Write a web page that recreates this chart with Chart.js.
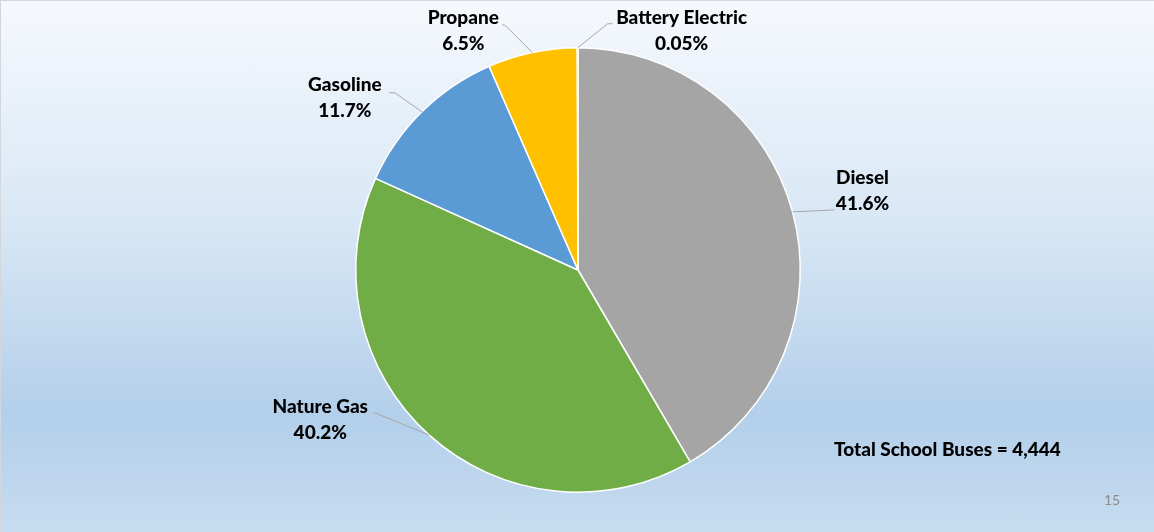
<!DOCTYPE html>
<html>
<head>
<meta charset="utf-8">
<script src="https://cdn.jsdelivr.net/npm/chart.js@4/dist/chart.umd.min.js"></script>
<style>
  html, body { margin: 0; padding: 0; }
  body {
    width: 1154px; height: 532px; overflow: hidden; position: relative;
    background: linear-gradient(#f6f9fd 0%, #d8e7f5 42%, #b3cfea 78%, #c6dcf0 100%);
    font-family: Lato, "Open Sans", sans-serif;
  }
  .frame { position: absolute; left: 0; top: 0; width: 1153px; height: 531px;
    border-top: 1px solid #d3d6da; border-left: 1px solid #d3d6da; pointer-events: none; }
  #wrap { position: absolute; left: 0; top: 0; width: 1154px; height: 532px; }
  .total { position: absolute; left: 834px; top: 437px; font-weight: 900; font-size: 19px; color: #000; }
  .page { position: absolute; left: 1104px; top: 491px; font-size: 14px; color: #8c8c8c; }
</style>
</head>
<body>
<div id="wrap"><canvas id="pieChart"></canvas></div>
<div class="total">Total School Buses = 4,444</div>
<div class="page">15</div>
<div class="frame"></div>
<script>
const categories = ['Diesel', 'Nature Gas', 'Gasoline', 'Propane', 'Battery Electric'];
const shares = [41.6, 40.2, 11.7, 6.5, 0.05];
const shareLabels = ['41.6%', '40.2%', '11.7%', '6.5%', '0.05%'];
const sliceColors = ['#a5a5a5', '#70ad47', '#5b9bd5', '#ffc000', '#4472c4'];

// label placement relative to the slice's outer edge point (text centre offset + leader bend)
const labelOffsets = [
    { tx: 70, ty: -21, lx: 42, ly: -2, kx: 42, ky: -2 },
    { tx: -109, ty: -15, lx: -56, ly: -23, kx: -56, ky: -23 },
    { tx: -77, ty: -14, lx: -27, ly: -19, kx: -33, ky: -19 },
    { tx: -69, ty: -22, lx: -27, ly: -27, kx: -30, ky: -28 },
    { tx: 104, ty: -17, lx: 30, ly: -24, kx: 35, ky: -24 }
];

const labelPlugin = {
    id: 'pieLabels',
    afterDatasetsDraw(chart) {
        const ctx = chart.ctx;
        const arcs = chart.getDatasetMeta(0).data;
        ctx.save();
        arcs.forEach((arc, i) => {
            const mid = (arc.startAngle + arc.endAngle) / 2;
            const ex = arc.x + Math.cos(mid) * arc.outerRadius;
            const ey = arc.y + Math.sin(mid) * arc.outerRadius;
            const o = labelOffsets[i];
            ctx.strokeStyle = '#a6a6a6';
            ctx.lineWidth = 1;
            ctx.beginPath();
            ctx.moveTo(ex, ey);
            ctx.lineTo(ex + o.lx, ey + o.ly);
            ctx.lineTo(ex + o.kx, ey + o.ky);
            ctx.stroke();
            ctx.fillStyle = '#000';
            ctx.font = '900 19px Lato';
            ctx.textAlign = 'center';
            ctx.textBaseline = 'middle';
            ctx.fillText(categories[i], ex + o.tx, ey + o.ty - 13);
            ctx.fillText(shareLabels[i], ex + o.tx, ey + o.ty + 13);
        });
        ctx.restore();
    }
};

new Chart(document.getElementById('pieChart').getContext('2d'), {
    type: 'pie',
    data: {
        labels: categories,
        datasets: [{
            data: shares,
            backgroundColor: sliceColors,
            borderColor: '#ffffff',
            borderWidth: 1.5
        }]
    },
    options: {
        responsive: true,
        maintainAspectRatio: false,
        animation: false,
        layout: { padding: { top: 47, bottom: 39, left: 2, right: 0 } },
        plugins: {
            legend: { display: false },
            tooltip: { enabled: false }
        }
    },
    plugins: [labelPlugin]
});
</script>
</body>
</html>
